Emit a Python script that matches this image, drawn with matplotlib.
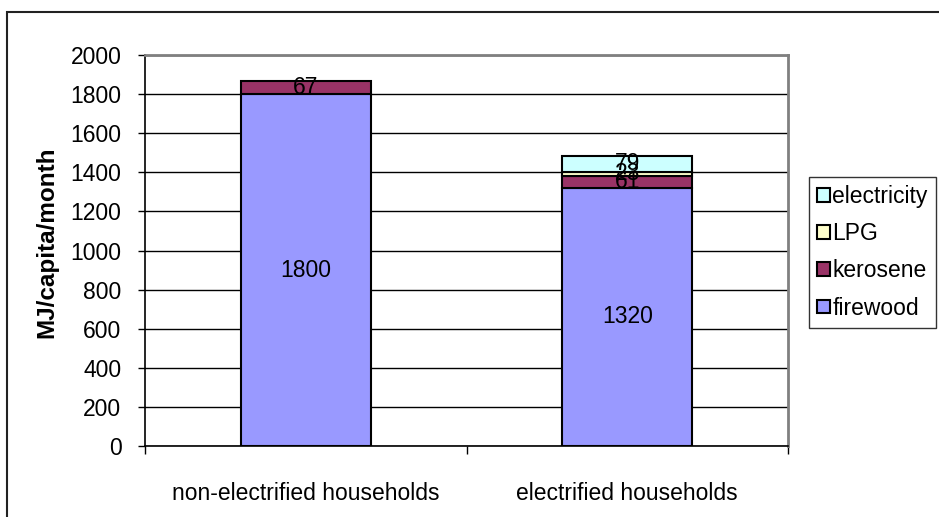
import matplotlib
matplotlib.use("Agg")
import matplotlib.pyplot as plt
from matplotlib.patches import Rectangle, Patch
import numpy as np

plt.rcParams['font.family'] = ['Liberation Sans', 'DejaVu Sans']

categories = ["non-electrified households", "electrified households"]
series_names = ["firewood", "kerosene", "LPG", "electricity"]
firewood = [1800, 1320]
kerosene = [67, 61]
lpg = [0, 23]
electricity = [0, 79]
yticks = [0, 200, 400, 600, 800, 1000, 1200, 1400, 1600, 1800, 2000]

colors = {"firewood": "#9999FF", "kerosene": "#993366", "LPG": "#FFFFCC", "electricity": "#CCFFFF"}
values = {"firewood": firewood, "kerosene": kerosene, "LPG": lpg, "electricity": electricity}

FS = 16.5
W, H = 939, 517
fig = plt.figure(figsize=(W/100, H/100), dpi=100)
ax = fig.add_axes([145/W, 1-446/H, (788-145)/W, (446-55)/H])

x = np.arange(len(categories))
bottom = np.zeros(len(categories))
for name in series_names:
    vals = np.array(values[name], dtype=float)
    for i in range(len(categories)):
        if vals[i] <= 0:
            continue
        ax.bar(x[i], vals[i], bottom=bottom[i], width=0.405, color=colors[name],
               edgecolor='black', linewidth=1.5, zorder=3)
        ax.text(x[i], bottom[i] + vals[i]/2, f"{int(vals[i])}", ha='center', va='center',
                fontsize=FS, color='black', zorder=4)
    bottom += vals

ax.set_xlim(-0.5, 1.5)
ax.set_ylim(0, 2000)
ax.set_yticks(yticks)
ax.set_yticklabels([str(v) for v in yticks], fontsize=FS)
ax.yaxis.grid(True, color='black', linewidth=1, zorder=0)
ax.set_axisbelow(True)

ax.set_xticks(x)
ax.set_xticklabels(categories, fontsize=FS)
ax.tick_params(axis='x', which='major', length=0, pad=26)
ax.set_xticks([-0.5, 0.5, 1.5], minor=True)
ax.tick_params(axis='x', which='minor', length=6, width=1, direction='out', color='black')
ax.tick_params(axis='y', length=5, width=1, direction='out', pad=12)

for s in ['left', 'bottom']:
    ax.spines[s].set_color('black')
    ax.spines[s].set_linewidth(1.2)
for s in ['top', 'right']:
    ax.spines[s].set_color('#808080')
    ax.spines[s].set_linewidth(2)

ax.set_ylabel("MJ/capita/month", fontsize=17.5, fontweight='bold')
ax.yaxis.set_label_coords(-0.153 + 12/643, 0.52)

handles = [Patch(facecolor=colors[n], edgecolor='black', linewidth=1.5, label=n) for n in reversed(series_names)]
leg = fig.legend(handles=handles, loc='upper left', bbox_to_anchor=(809/W, 1-177/H),
                 fontsize=FS, frameon=True, fancybox=False, edgecolor='black',
                 handlelength=0.55, handleheight=0.55, handletextpad=0.12, labelspacing=0.62,
                 borderpad=0.35, borderaxespad=0)
leg.get_frame().set_linewidth(1)

fig.patches.append(Rectangle((7/W, -0.1), 1.2, 1.1 - 12/H, transform=fig.transFigure,
                             fill=False, edgecolor='#222222', linewidth=1.5))

fig.savefig("out.png", dpi=100)
